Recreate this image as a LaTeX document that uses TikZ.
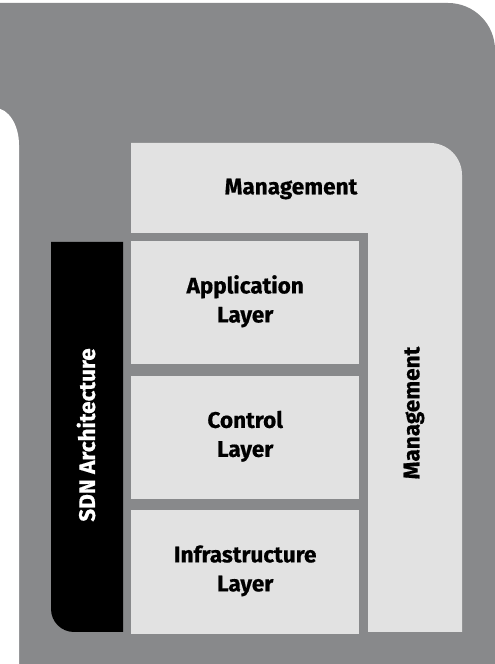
\documentclass[tikz,border=0pt]{standalone}
\usepackage{fontspec}
\setmainfont{Fira Sans}[BoldFeatures={FakeBold=0.6}]
\definecolor{outergray}{HTML}{88898B}
\definecolor{panelgray}{HTML}{E2E2E2}
\begin{document}
\begin{tikzpicture}[x=1pt,y=1pt,
  lbl/.style={font=\bfseries\fontsize{22.5}{29}\selectfont, align=center, inner sep=0pt},
  layerbox/.style={fill=panelgray, minimum width=228pt, minimum height=123pt, inner sep=0pt, anchor=south west}]
\useasboundingbox (0,0) rectangle (495,664);
\clip (0,0) rectangle (495,664);
\fill[white] (0,0) rectangle (495,664);
% outer gray area
\fill[outergray] (0,661) -- (448,661) arc[start angle=90,end angle=0,radius=47] -- (495,0) -- (0,0) -- cycle;
% white shape at left
\fill[white] (-30,556) -- (-5,556) arc[start angle=90,end angle=0,x radius=24,y radius=37] -- (19,-5) -- (-30,-5) -- cycle;
% management L-shaped panel
\fill[panelgray] (131,521) -- (430,521) arc[start angle=90,end angle=0,radius=32] -- (462,32) -- (368,32) -- (368,431) -- (131,431) -- cycle;
% black SDN bar
\fill[black] (123,422) -- (123,32) -- (74,32) arc[start angle=270,end angle=180,radius=23] -- (51,422) -- cycle;
% layers
\node[layerbox] (app) at (131,300) {};
\node[layerbox] (ctrl) at (131,165) {};
\node[layerbox, minimum height=124pt] (infra) at (131,30) {};
\node[lbl] (appt) at ([yshift=1pt]app.center) {Application\\Layer};
\node[lbl] (ctrlt) at ([yshift=1pt]ctrl.center) {Control\\Layer};
\node[lbl] (infrat) at ([yshift=1pt]infra.center) {Infrastructure\\Layer};
\node[lbl] (mgmttop) at (291,475) {Management};
\node[lbl, rotate=90] (mgmtside) at (414,251) {Management};
\node[lbl, rotate=90, text=white] (sdn) at (86,229) {SDN Architecture};
\end{tikzpicture}
\end{document}
